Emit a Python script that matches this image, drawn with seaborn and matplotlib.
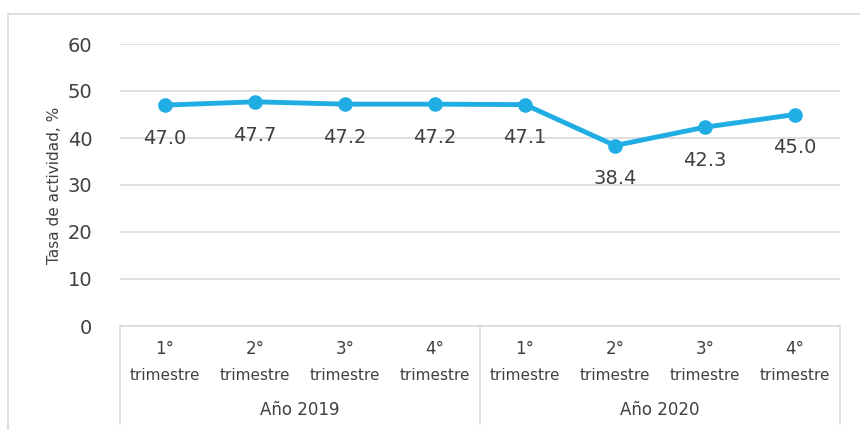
import matplotlib
matplotlib.use("Agg")
import matplotlib.pyplot as plt
import matplotlib.transforms as mtransforms
from matplotlib.patches import Rectangle
import seaborn as sns

# Data
quarters = ["1°", "2°", "3°", "4°", "1°", "2°", "3°", "4°"]
years = ["Año 2019", "Año 2020"]
rate = [47.0, 47.7, 47.2, 47.2, 47.1, 38.4, 42.3, 45.0]

sns.set_theme(style="white")
plt.rcParams["font.family"] = ["DejaVu Sans"]
text_color = "#404040"
grid_color = "#D9D9D9"
line_color = "#1FADE4"

fig = plt.figure(figsize=(8.6, 4.3), dpi=100)
ax = fig.add_axes([120 / 860, 1 - 326 / 430, 720 / 860, 282 / 430])

xs = list(range(len(rate)))
sns.lineplot(x=xs, y=rate, ax=ax, color=line_color, linewidth=3.5,
             marker="o", markersize=10.5, markeredgewidth=0, zorder=3)

ax.set_xlim(-0.5, len(rate) - 0.5)
ax.set_ylim(0, 60)
ax.set_yticks(range(0, 61, 10))
ax.yaxis.grid(True, color=grid_color, linewidth=1.2)
ax.tick_params(axis="y", labelsize=14, colors=text_color, length=0, pad=20)
ax.set_xticks([])
for s in ["top", "right", "left"]:
    ax.spines[s].set_visible(False)
ax.spines["bottom"].set_color(grid_color)
ax.spines["bottom"].set_linewidth(1.2)
ax.set_ylabel("Tasa de actividad, %", fontsize=11, color=text_color, labelpad=4)

# data labels below points
for x, v in zip(xs, rate):
    ax.annotate(f"{v:.1f}", (x, v), xytext=(0, -24), textcoords="offset points",
                ha="center", va="center", fontsize=14, color=text_color)

# category table under the axis
trans = mtransforms.blended_transform_factory(ax.transData, fig.transFigure)
for x, q in zip(xs, quarters):
    ax.text(x, 1 - 349 / 430, q, transform=trans, ha="center", va="center",
            fontsize=12, color=text_color)
    ax.text(x, 1 - 376 / 430, "trimestre", transform=trans, ha="center", va="center",
            fontsize=11, color=text_color)
for i, yr in enumerate(years):
    ax.text(i * 4 + 1.5, 1 - 410 / 430, yr, transform=trans, ha="center", va="center",
            fontsize=12, color=text_color)
for xv in [-0.5, 3.5, 7.5]:
    ax.plot([xv, xv], [1 - 326 / 430, 1 - 424 / 430], transform=trans, color=grid_color,
            linewidth=1.2, clip_on=False)

# outer chart border (right and bottom edges fall outside the image)
fig.patches.append(Rectangle((8 / 860, -0.05), 1.0, 1.05 - 14 / 430,
                             transform=fig.transFigure, fill=False,
                             edgecolor=grid_color, linewidth=1.2))

fig.savefig("out.png", dpi=100)
